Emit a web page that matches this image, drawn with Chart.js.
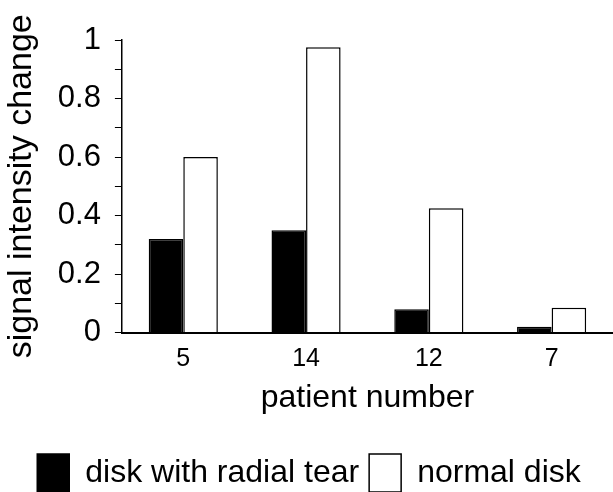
<!DOCTYPE html>
<html>
<head>
<meta charset="utf-8">
<script src="https://cdn.jsdelivr.net/npm/chart.js@4"></script>
<style>
  html, body { margin: 0; padding: 0; background: #fff; }
  #wrap { width: 613px; height: 492px; }
</style>
</head>
<body>
<div id="wrap"><canvas id="graph"></canvas></div>
<script>
// data
const patients = ["5", "14", "12", "7"];
const radialTear = [0.32, 0.35, 0.08, 0.02];
const normalDisk = [0.60, 0.975, 0.425, 0.085];
const yTicks = [0, 0.2, 0.4, 0.6, 0.8, 1];

const font = "'Liberation Sans', Arial, sans-serif";

const ctx = document.getElementById("graph").getContext("2d");
new Chart(ctx, {
  type: "bar",
  data: {
    labels: patients,
    datasets: [
      {
        label: "disk with radial tear",
        data: radialTear,
        backgroundColor: "#000",
        borderColor: "#000",
        borderWidth: 1.5
      },
      {
        label: "normal disk",
        data: normalDisk,
        backgroundColor: "#fff",
        borderColor: "#000",
        borderWidth: 1.5
      }
    ]
  },
  options: {
    responsive: true,
    maintainAspectRatio: false,
    animation: false,
    categoryPercentage: 0.563,
    barPercentage: 1,
    layout: { padding: { left: 1, right: -4, top: 40, bottom: -10 } },
    plugins: {
      tooltip: { enabled: false },
      legend: {
        position: "bottom",
        labels: {
          color: "#000",
          font: { family: font, size: 32 },
          boxWidth: 32,
          boxHeight: 38,
          padding: 10
        }
      }
    },
    scales: {
      x: {
        grid: { display: false },
        border: { color: "#000", width: 2 },
        ticks: { color: "#000", font: { family: font, size: 25 }, padding: 4 },
        title: {
          display: true,
          text: "patient number",
          color: "#000",
          font: { family: font, size: 32 },
          padding: { top: 0, bottom: 27 }
        }
      },
      y: {
        min: 0,
        max: 1,
        grid: { drawOnChartArea: false, color: "#000", tickLength: 7 },
        border: { color: "#000", width: 1.5 },
        ticks: {
          stepSize: 0.1,
          color: "#000",
          font: { family: font, size: 31 },
          padding: 14,
          autoSkip: false,
          callback: function (v) {
            const hit = yTicks.find(t => Math.abs(t - v) < 1e-6);
            return hit === undefined ? "" : String(hit);
          }
        },
        title: {
          display: true,
          text: "signal intensity change",
          color: "#000",
          font: { family: font, size: 34 },
          padding: { top: 0, bottom: 2 }
        }
      }
    }
  }
});
</script>
</body>
</html>
